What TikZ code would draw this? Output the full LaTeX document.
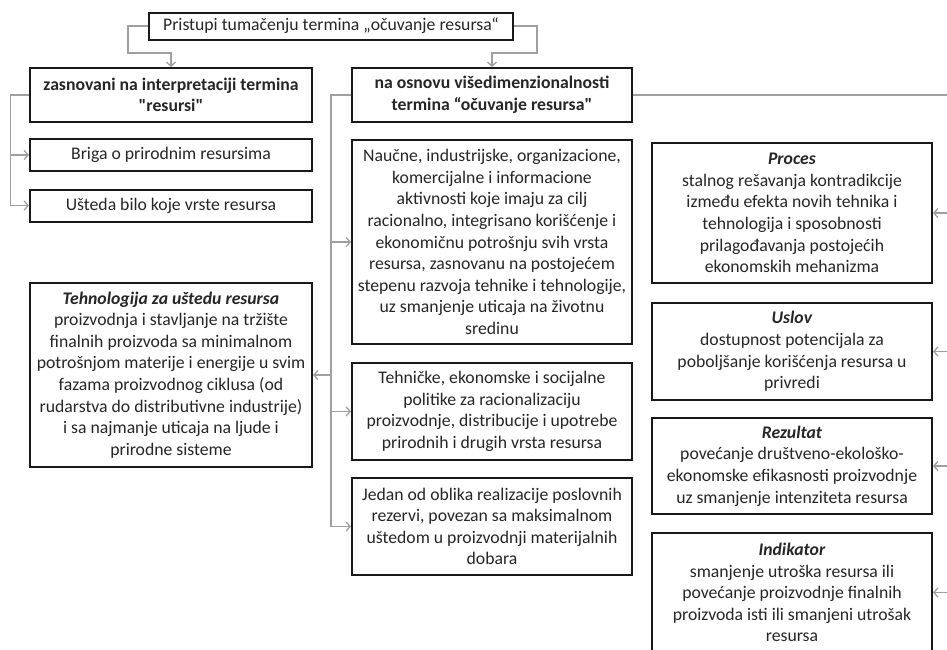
\documentclass[tikz,border=0pt]{standalone}
\usepackage{fontspec}
\setmainfont{Carlito}
\usepackage{tikz}
\usetikzlibrary{positioning,arrows.meta}

\begin{document}
\begin{tikzpicture}[
						x=1pt, y=-1pt,
						% Styles for the boxes and the gray connectors
						box style/.style={draw=black!90, line width=2pt, fill=white, align=center, inner sep=1pt,
							text=black!85, font=\fontsize{17.7}{21.6}\selectfont},
						line style/.style={draw=gray!75, line width=1.3pt, -{Straight Barb[length=4pt, width=9pt]}}
						]
						
						\useasboundingbox (0,0) rectangle (947,649);
						
						% Top box and the two main branches
						\node[box style, minimum width=364, minimum height=27] (top) at (331,26) {Pristupi tumačenju termina „očuvanje resursa“};
						\node[box style, minimum width=282, minimum height=54] (lefthead) at (171,95) {\textbf{zasnovani na interpretaciji termina}\\\textbf{\textquotedbl resursi\textquotedbl}};
						\node[box style, minimum width=280, minimum height=54] (righthead) at (492,95) {\textbf{na osnovu višedimenzionalnosti}\\\textbf{termina “očuvanje resursa\textquotedbl}};
						
						% Left column
						\node[box style, minimum width=282, minimum height=32] (briga) at (171,155) {Briga o prirodnim resursima};
						\node[box style, minimum width=282, minimum height=32] (usteda) at (171,205.5) {Ušteda bilo koje vrste resursa};
						\node[box style, minimum width=282, minimum height=184] (tehnologija) at (171,375) {\textbf{\textit{Tehnologija za uštedu resursa}}\\proizvodnja i stavljanje na tržište\\finalnih proizvoda sa minimalnom\\potrošnjom materije i energije u svim\\fazama proizvodnog ciklusa (od\\rudarstva do distributivne industrije)\\i sa najmanje uticaja na ljude i\\prirodne sisteme};
						
						% Middle column
						\node[box style, minimum width=280, minimum height=204] (naucne) at (492,242) {Naučne, industrijske, organizacione,\\komercijalne i informacione\\aktivnosti koje imaju za cilj\\racionalno, integrisano korišćenje i\\ekonomičnu potrošnju svih vrsta\\resursa, zasnovanu na postojećem\\stepenu razvoja tehnike i tehnologije,\\uz smanjenje uticaja na životnu\\sredinu};
						\node[box style, minimum width=280, minimum height=97] (tehnicke) at (492,411.5) {Tehničke, ekonomske i socijalne\\politike za racionalizaciju\\proizvodnje, distribucije i upotrebe\\prirodnih i drugih vrsta resursa};
						\node[box style, minimum width=280, minimum height=97] (jedan) at (492,526.5) {Jedan od oblika realizacije poslovnih\\rezervi, povezan sa maksimalnom\\uštedom u proizvodnji materijalnih\\dobara};
						
						% Right column
						\node[box style, minimum width=280, minimum height=140] (proces) at (792,213) {\textbf{\textit{Proces}}\\stalnog rešavanja kontradikcije\\između efekta novih tehnika i\\tehnologija i sposobnosti\\prilagođavanja postojećih\\ekonomskih mehanizma};
						\node[box style, minimum width=280, minimum height=97] (uslov) at (792,351.5) {\textbf{\textit{Uslov}}\\dostupnost potencijala za\\poboljšanje korišćenja resursa u\\privredi};
						\node[box style, minimum width=280, minimum height=96] (rezultat) at (792,466) {\textbf{\textit{Rezultat}}\\povećanje društveno-ekološko-\\ekonomske efikasnosti proizvodnje\\uz smanjenje intenziteta resursa};
						\node[box style, minimum width=280, minimum height=119] (indikator) at (792,592.5) {\textbf{\textit{Indikator}}\\smanjenje utroška resursa ili\\povećanje proizvodnje finalnih\\proizvoda isti ili smanjeni utrošak\\resursa};
						
						% Bend points of the connectors
						\coordinate (tl) at (128,53);
						\coordinate (tr) at (537,53);
						\coordinate (lb) at (10.5,95);
						\coordinate (mb) at (331,95);
						\coordinate (rb) at (949,95);
						
						% --- Draw the connectors ---
						\draw[line style] (top.west) -| (tl) -| (lefthead.north);
						\draw[line style] (top.east) -| (tr) -| (righthead.north);
						
						\draw[line style] (lefthead.west) -- (lb) |- (usteda.west);
						\draw[line style] (lb) |- (briga.west);
						
						\draw[line style] (righthead.west) -- (mb) |- (jedan.west);
						\draw[line style] (mb) |- (naucne.west);
						\draw[line style] (mb) |- (tehnicke.west);
						\draw[line style] (mb) |- (tehnologija.east);
						
						\draw[line style] (righthead.east) -- (rb) |- (indikator.east);
						\draw[line style] (rb) |- (proces.east);
						\draw[line style] (rb) |- (uslov.east);
						\draw[line style] (rb) |- (rezultat.east);
					\end{tikzpicture}
\end{document}
